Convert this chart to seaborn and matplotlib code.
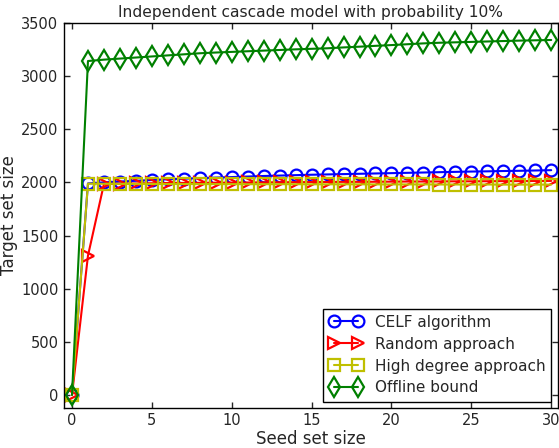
import pandas as pd
import seaborn as sns
import matplotlib
matplotlib.use("Agg")
import matplotlib.pyplot as plt

seed_sizes = list(range(0, 31))
celf = [0, 1990, 2000, 2008, 2015, 2022, 2029, 2035, 2040, 2045, 2050, 2055, 2060, 2064, 2068,
        2072, 2075, 2078, 2081, 2084, 2087, 2090, 2093, 2096, 2099, 2102, 2104, 2107, 2109, 2112, 2115]
random_appr = [0, 1310, 1985, 1988, 1990, 1992, 1994, 1995, 1996, 1997, 1998, 1999, 2000, 2001, 2002,
               2003, 2004, 2005, 2005, 2006, 2007, 2008, 2008, 2009, 2010, 2010, 2011, 2012, 2012, 2013, 2014]
high_degree = [0, 1988, 1987, 1986, 1986, 1985, 1985, 1985, 1984, 1984, 1984, 1983, 1983, 1983, 1983,
               1982, 1982, 1982, 1982, 1981, 1981, 1981, 1981, 1980, 1980, 1980, 1980, 1979, 1979, 1979, 1979]
offline = [0, 3142, 3155, 3165, 3175, 3185, 3195, 3205, 3215, 3222, 3228, 3234, 3240, 3246, 3252,
           3257, 3262, 3270, 3277, 3285, 3292, 3300, 3308, 3314, 3318, 3322, 3326, 3330, 3334, 3337, 3340]

labels = ['CELF algorithm', 'Random approach', 'High degree approach', 'Offline bound']
series = [celf, random_appr, high_degree, offline]
colors = ['b', 'r', (0.75, 0.75, 0), (0, 0.5, 0)]
markers = ['o', '>', 's', 'd']

sns.set_style("ticks")
plt.rcParams['font.family'] = ['DejaVu Sans']
plt.rcParams['xtick.direction'] = 'in'
plt.rcParams['ytick.direction'] = 'in'

fig = plt.figure(figsize=(5.59, 4.48), dpi=100)
ax = fig.add_axes([0.1145, 0.09, 0.883, 0.8587])

for lab, vals, col, mk in zip(labels, series, colors, markers):
    df = pd.DataFrame({'seed': seed_sizes, 'target': vals})
    sns.lineplot(data=df, x='seed', y='target', ax=ax, color=col, marker=mk,
                 markersize=8.5 if mk != 'd' else 10.5, mfc='none', mec=col, mew=1.6,
                 linewidth=1.5, label=lab)

ax.set_xlim(-0.5, 30.4)
ax.set_ylim(-120, 3500)
ax.set_xticks([0, 5, 10, 15, 20, 25, 30])
ax.set_yticks(range(0, 3501, 500))
ax.tick_params(axis='both', which='major', labelsize=10.5, length=4, width=1,
               top=True, right=True, pad=4)
for sp in ax.spines.values():
    sp.set_linewidth(1)
    sp.set_color('black')

ax.set_xlabel('Seed set size', fontsize=12, labelpad=1)
ax.set_ylabel('Target set size', fontsize=12, labelpad=2)
ax.set_title('Independent cascade model with probability 10%', fontsize=11.2, pad=4)

leg = ax.legend(loc='lower right', numpoints=2, fontsize=11, fancybox=False,
                frameon=True, borderaxespad=0.4, handlelength=2.2, labelspacing=0.45)
leg.get_frame().set_edgecolor('black')
leg.get_frame().set_linewidth(1)
leg.get_frame().set_alpha(1)

fig.savefig('out.png', dpi=100)
